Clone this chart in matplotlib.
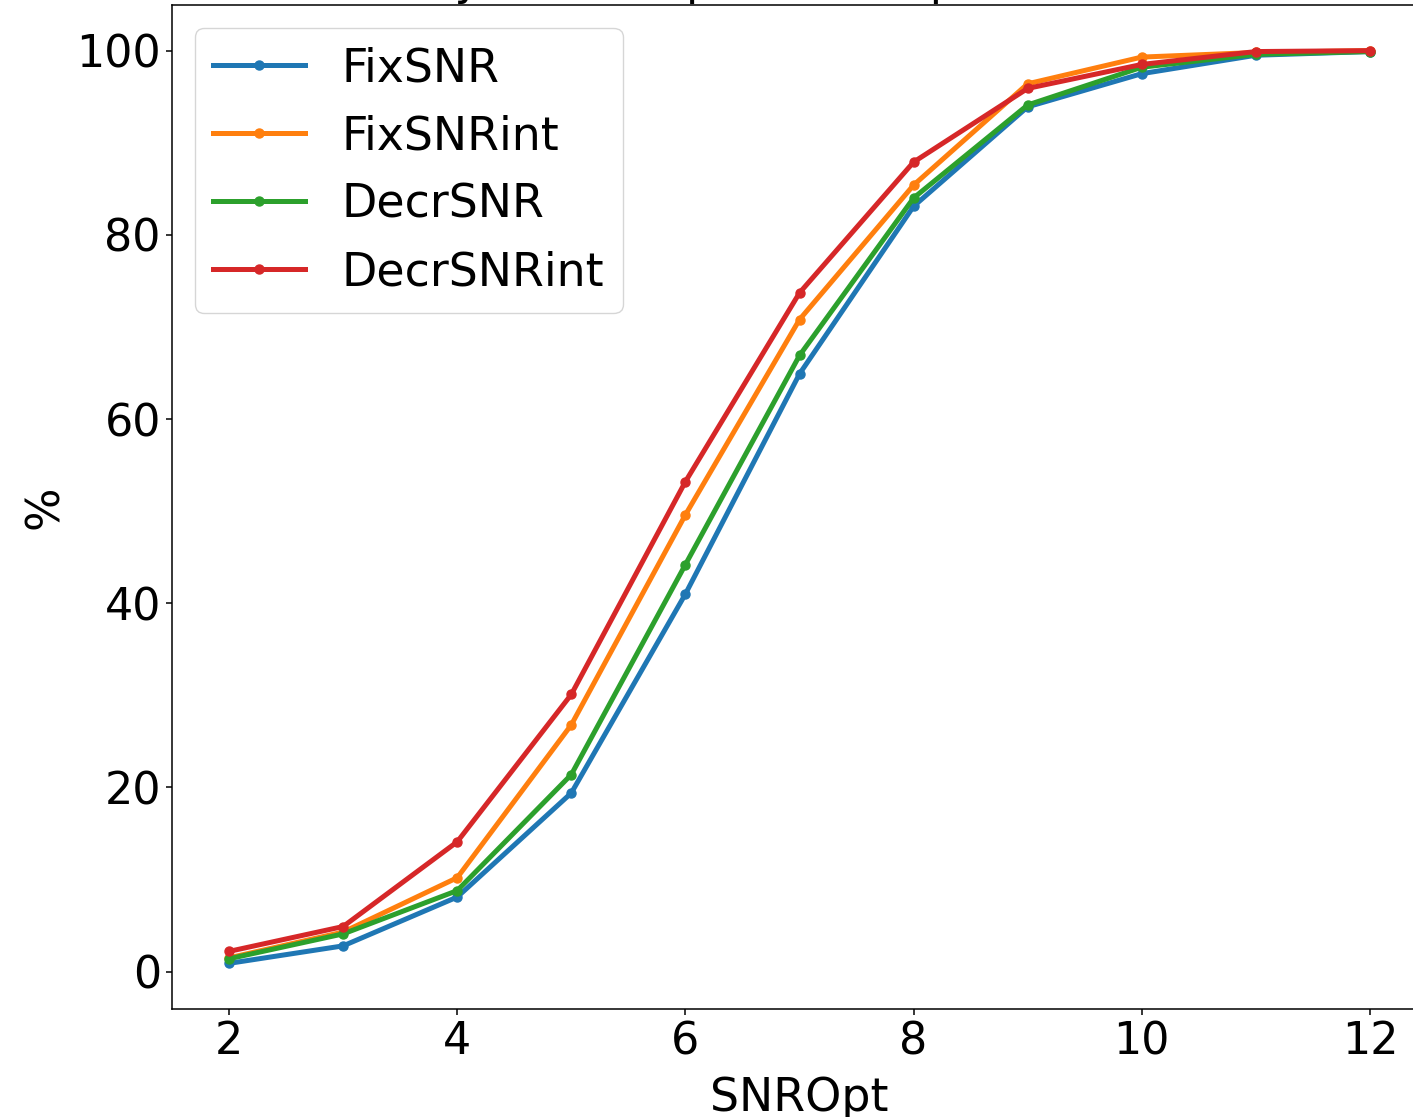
import matplotlib
matplotlib.use("Agg")
import matplotlib.pyplot as plt

# values (percent)
snr = [2, 3, 4, 5, 6, 7, 8, 9, 10, 11, 12]
fix_snr = [0.9, 2.8, 8.1, 19.4, 41.0, 64.9, 83.1, 93.9, 97.5, 99.5, 99.9]
fix_snr_int = [1.5, 4.3, 10.2, 26.8, 49.6, 70.8, 85.4, 96.4, 99.3, 99.8, 100.0]
decr_snr = [1.4, 4.1, 8.8, 21.4, 44.2, 66.9, 84.0, 94.1, 98.2, 99.6, 99.9]
decr_snr_int = [2.2, 4.9, 14.1, 30.1, 53.2, 73.7, 87.9, 95.9, 98.5, 99.9, 100.0]

labels = ["FixSNR", "FixSNRint", "DecrSNR", "DecrSNRint"]
series = [fix_snr, fix_snr_int, decr_snr, decr_snr_int]
colors = ["#1f77b4", "#ff7f0e", "#2ca02c", "#d62728"]

FS = 33

fig = plt.figure(figsize=(14.13, 11.17), dpi=100)
# the reference is a crop: right spine, title and xlabel run off the picture
ax = fig.add_axes([172/1413, 108/1117, (1427-172)/1413, (1009-5)/1117])

for ys, lab, c in zip(series, labels, colors):
    ax.plot(snr, ys, marker="o", lw=3.6, ms=6.5, color=c, label=lab)

ax.set_xticks([2, 4, 6, 8, 10, 12])
ax.set_yticks([0, 20, 40, 60, 80, 100])
ax.tick_params(labelsize=32, length=4.5, width=1.1)
for sp in ax.spines.values():
    sp.set_linewidth(1.1)

ax.set_xlabel("SNROpt", fontsize=FS, labelpad=9)
ax.set_ylabel("%", fontsize=FS, labelpad=6)

ax.legend(fontsize=FS, loc="upper left")

fig.text(266/1413, 1 + 5/1117, "Efficiency at the top of each spectrum",
         fontsize=32, ha="left", va="baseline")

fig.savefig("out.png", dpi=100)
